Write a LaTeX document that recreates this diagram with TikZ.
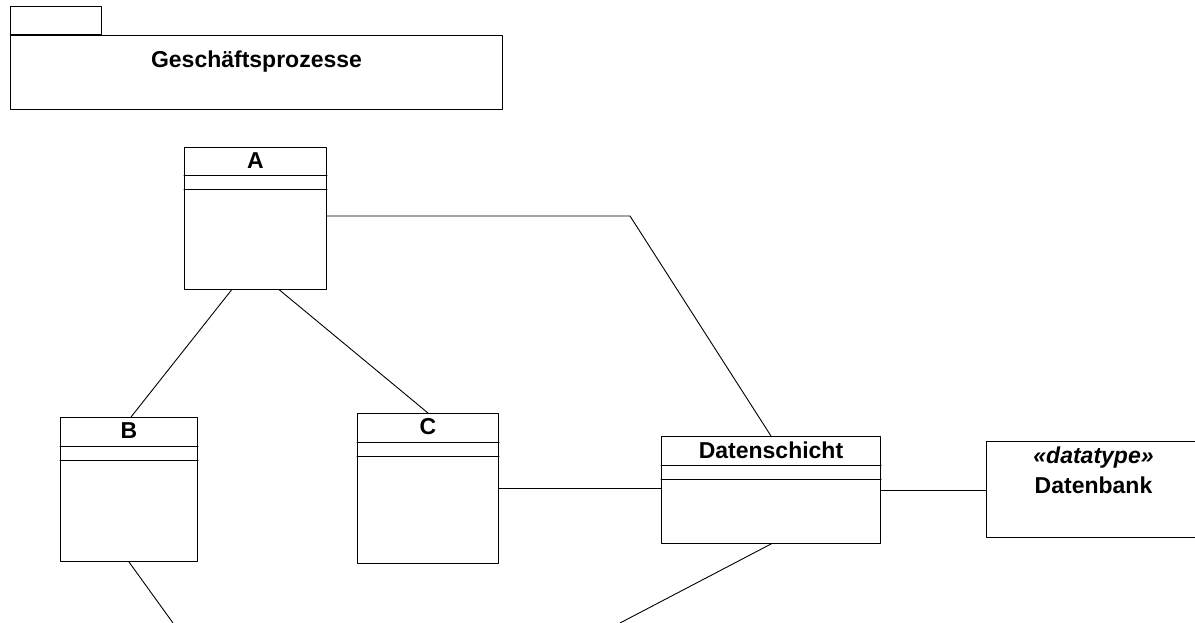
\documentclass[tikz,border=0pt]{standalone}
\usepackage{fontspec}
\setmainfont{Liberation Sans}
\usepackage{tikz}
\usetikzlibrary{positioning,calc}

\begin{document}
\begin{tikzpicture}[x=1pt,y=-1pt,line width=1pt,line cap=round,line join=round]
	\tikzset{
		klasse/.style={draw,rectangle,inner sep=0pt,anchor=north west},
		titel/.style={font=\fontsize{23}{27}\selectfont\bfseries,inner sep=0pt},
		assoz/.style={draw,line width=0.9pt}
	}
	
	% sizes
	\def\nh{29}   % name compartment height
	\def\ah{14}   % attribute compartment height
	
	\useasboundingbox (0,0) rectangle (1195,623);
	\clip (0,0) rectangle (1195,623);
	
	% package
	\draw (10,7) rectangle (101,35);
	\node[klasse,minimum width=492pt,minimum height=74pt] (paket) at (10,35) {};
	\node[titel] at ([yshift=-27pt]paket.north) {Geschäftsprozesse};
	
	% classes
	\node[klasse,minimum width=142pt,minimum height=142pt] (A) at (184,147) {};
	\node[klasse,minimum width=137pt,minimum height=144pt] (B) at (60,417) {};
	\node[klasse,minimum width=141pt,minimum height=150pt] (C) at (357,413) {};
	\node[klasse,minimum width=219pt,minimum height=107pt] (DS) at (661,436) {};
	
	% compartments + names
	\foreach \k/\txt in {A/A, B/B, C/C, DS/Datenschicht}{
		\draw ([yshift=-\nh pt]\k.north west) -- ([yshift=-\nh pt]\k.north east);
		\draw ([yshift=-\nh pt-\ah pt]\k.north west) -- ([yshift=-\nh pt-\ah pt]\k.north east);
		\node[titel] at ([yshift=-14pt]\k.north) {\txt};
	}
	
	% datatype
	\node[klasse,minimum width=214pt,minimum height=96pt] (DB) at (986,441) {};
	\node[titel] at ([yshift=-17pt]DB.north) {\itshape «datatype»};
	\node[titel] at ([yshift=-44pt]DB.north) {Datenbank};
	
	% associations
	\coordinate (knick) at (630,216);
	\coordinate (endeB) at (173,623);
	\coordinate (endeDS) at (620,623);
	
	\draw[assoz] (A.east |- knick) -- (knick) -- (DS.north);
	\draw[assoz] ([xshift=-24pt]A.south) -- ([xshift=2pt]B.north);
	\draw[assoz] ([xshift=24pt]A.south) -- (C.north);
	\draw[assoz] (C.east) -- (DS.west |- C.east);
	\draw[assoz] (DS.east) -- (DB.west |- DS.east);
	\draw[assoz] (B.south) -- (endeB);
	\draw[assoz] (DS.south) -- (endeDS);
\end{tikzpicture}
\end{document}
